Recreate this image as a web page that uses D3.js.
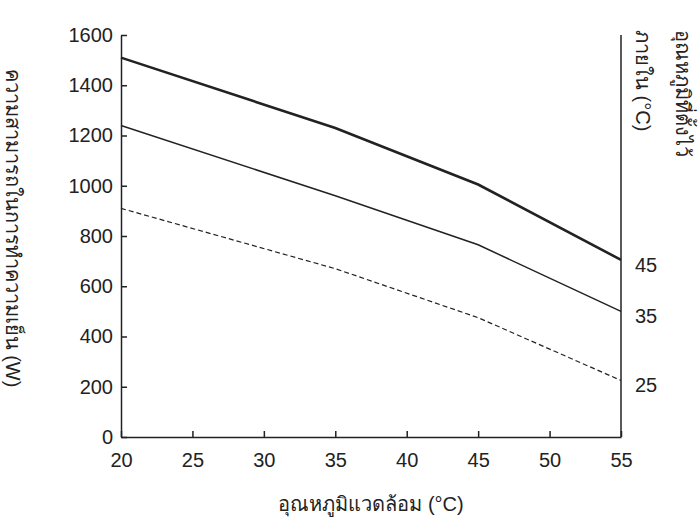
<!DOCTYPE html>
<html><head><meta charset="utf-8">
<script src="https://cdn.jsdelivr.net/npm/d3@7"></script>
<style>body{margin:0;background:#fff}text{font-family:"Liberation Sans","Noto Sans",Arial,sans-serif}</style>
</head><body>
<svg id="chart" width="700" height="529"></svg>
<script>
const temps = [20, 35, 45, 55];
const series = [
  { name: '45', values: [1510, 1230, 1005, 705], width: 2.6, dash: null },
  { name: '35', values: [1240, 960, 765, 500], width: 1.5, dash: null },
  { name: '25', values: [910, 670, 475, 225], width: 1.2, dash: '5,3' }
];
const xTicks = [20, 25, 30, 35, 40, 45, 50, 55];
const yTicks = [0, 200, 400, 600, 800, 1000, 1200, 1400, 1600];

const svg = d3.select('#chart');
const m = { left: 121, right: 79, top: 35, bottom: 92 };
const W = 700 - m.left - m.right, H = 529 - m.top - m.bottom;
const g = svg.append('g').attr('transform', `translate(${m.left},${m.top})`);

const x = d3.scaleLinear().domain([20, 55]).range([0, W]);
const y = d3.scaleLinear().domain([0, 1600]).range([H, 0]);

const xa = g.append('g').attr('transform', `translate(0,${H})`)
  .call(d3.axisBottom(x).tickValues(xTicks).tickFormat(d3.format('d')).tickSizeInner(-6).tickSizeOuter(0).tickPadding(16));
const ya = g.append('g')
  .call(d3.axisLeft(y).tickValues(yTicks).tickFormat(d3.format('d')).tickSizeInner(-6).tickSizeOuter(0).tickPadding(8));
[xa, ya].forEach(a => {
  a.selectAll('text').attr('font-size', '20px').attr('fill', '#222');
  a.selectAll('line,path').attr('stroke', '#222').attr('stroke-width', 1.5);
});
g.append('line').attr('x1', W).attr('x2', W).attr('y1', 0).attr('y2', H)
  .attr('stroke', '#222').attr('stroke-width', 1.5);

const line = d3.line().x((d, i) => x(temps[i])).y(d => y(d));
series.forEach(s => {
  g.append('path').attr('d', line(s.values)).attr('fill', 'none')
    .attr('stroke', '#222').attr('stroke-width', s.width)
    .attr('stroke-dasharray', s.dash);
  g.append('text').attr('x', W + 14).attr('y', y(s.values[3]) + 12)
    .attr('font-size', '20px').attr('fill', '#222').text(s.name);
});

g.append('text').attr('x', W / 2).attr('y', H + 74).attr('text-anchor', 'middle')
  .attr('font-size', '20px').attr('fill', '#222').text('อุณหภูมิแวดล้อม (°C)');
svg.append('text').attr('transform', 'translate(6,228) rotate(90)').attr('text-anchor', 'middle')
  .attr('font-size', '20px').attr('fill', '#222').text('ความสามารถในการทำความเย็น (W)');
svg.append('text').attr('transform', 'translate(676,30) rotate(90)')
  .attr('font-size', '20px').attr('fill', '#222').text('อุณหภูมิที่ตั้งไว้');
svg.append('text').attr('transform', 'translate(636,30) rotate(90)')
  .attr('font-size', '20px').attr('fill', '#222').text('ภายใน (°C)');
</script>
</body></html>
